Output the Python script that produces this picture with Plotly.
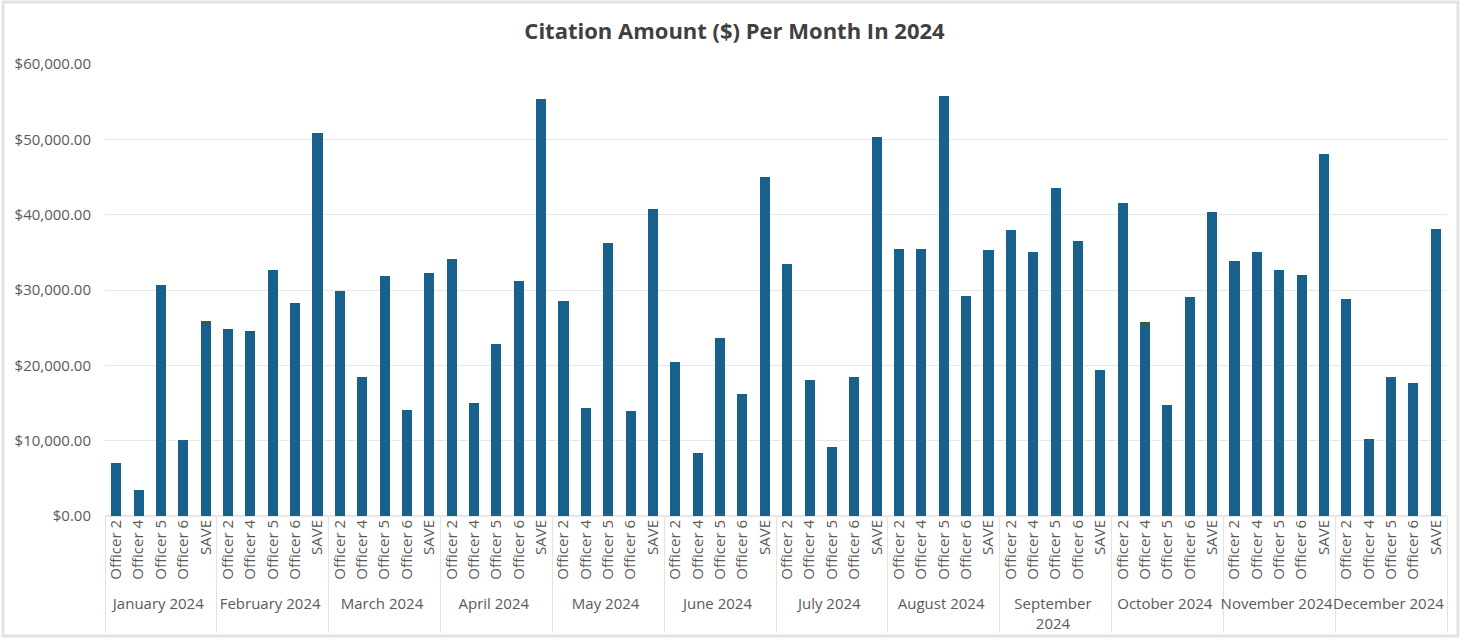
import plotly.graph_objects as go

# Monthly citation totals per officer, 2024
months = [
    "January 2024", "February 2024", "March 2024", "April 2024",
    "May 2024", "June 2024", "July 2024", "August 2024",
    "September<br>2024", "October 2024", "November 2024", "December 2024",
]
officers = ["Officer 2", "Officer 4", "Officer 5", "Officer 6", "SAVE"]

amounts = {
    "January 2024":      [7000, 3450, 30700, 10100, 25500],
    "February 2024":     [24800, 24500, 32700, 28300, 50800],
    "March 2024":        [29900, 18400, 31800, 14100, 32200],
    "April 2024":        [34100, 15000, 22800, 31200, 55400],
    "May 2024":          [28500, 14300, 36300, 13900, 40700],
    "June 2024":         [20500, 8300, 23600, 16200, 45000],
    "July 2024":         [33500, 18100, 9100, 18500, 50300],
    "August 2024":       [35400, 35500, 55800, 29200, 35300],
    "September<br>2024": [37900, 35000, 43500, 36500, 19400],
    "October 2024":      [41600, 25300, 14800, 29100, 40400],
    "November 2024":     [33800, 35000, 32700, 32000, 48100],
    "December 2024":     [28800, 10200, 18400, 17700, 38100],
}

# Small secondary amounts stacked on top of a couple of bars
extra = {
    "January 2024": [0, 0, 0, 0, 450],
    "October 2024": [0, 450, 0, 0, 0],
}

y_ticks = [0, 10000, 20000, 30000, 40000, 50000, 60000]

outer, inner, vals, extra_vals = [], [], [], []
for m in months:
    for i, o in enumerate(officers):
        outer.append(m)
        inner.append(o)
        vals.append(amounts[m][i])
        extra_vals.append(extra.get(m, [0] * 5)[i])

BAR = "#17618C"
TEXT = "#5A5A5A"
FONT = "Open Sans"

fig = go.Figure()
fig.add_trace(go.Bar(
    x=[outer, inner], y=vals, marker=dict(color=BAR, line=dict(width=0)),
    name="Amount",
))
fig.add_trace(go.Bar(
    x=[outer, inner], y=extra_vals, marker=dict(color="#355F3A", line=dict(width=0)),
    name="Other",
))

fig.update_layout(
    width=1469, height=639,
    barmode="stack",
    bargap=0.55,
    showlegend=False,
    paper_bgcolor="white",
    plot_bgcolor="white",
    font=dict(family=FONT, color=TEXT, size=15),
    margin=dict(l=105, r=22, t=64, b=123, autoexpand=False),
    title=dict(
        text="<b>Citation Amount ($) Per Month In 2024</b>",
        x=0.5, xanchor="center", xref="container",
        y=1 - 31 / 639, yanchor="middle",
        font=dict(family=FONT, size=22, color="#404040"),
    ),
    xaxis=dict(
        type="multicategory",
        tickangle=-90,
        tickfont=dict(size=15, color=TEXT),
        showgrid=False,
        showline=False,
        ticks="",
        showdividers=True,
        dividercolor="#E3E3E3",
        dividerwidth=1,
        automargin=False,
    ),
    yaxis=dict(
        range=[0, 60000],
        tickvals=y_ticks,
        tickformat="$,.2f",
        gridcolor="#E6E6E6",
        gridwidth=1,
        zeroline=True,
        zerolinecolor="#E6E6E6",
        showline=False,
        ticks="",
        ticklabelstandoff=13,
        tickfont=dict(size=15, color=TEXT),
        automargin=False,
    ),
    shapes=[dict(
        type="rect", xref="paper", yref="paper",
        x0=(3 - 105) / 1342, x1=(1458 - 105) / 1342,
        y0=(516 - 636) / 452, y1=(516 - 2) / 452,
        line=dict(color="#E2E2E2", width=3), fillcolor="rgba(0,0,0,0)",
        layer="below",
    )],
)

fig.write_html("out.html")
